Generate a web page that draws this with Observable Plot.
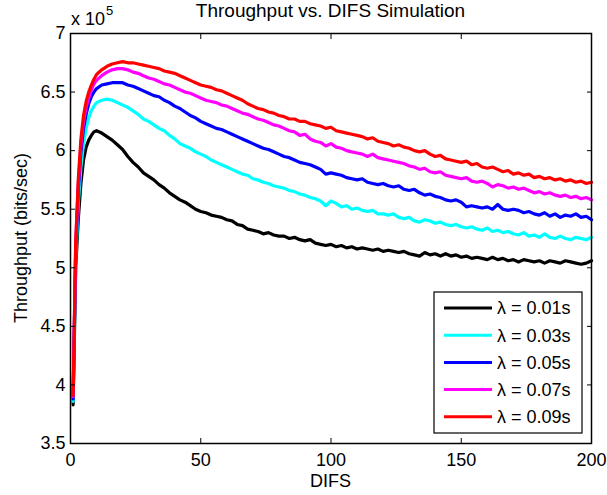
<!DOCTYPE html>
<html><head><meta charset="utf-8">
<script src="https://cdn.jsdelivr.net/npm/d3@7"></script>
<script src="https://cdn.jsdelivr.net/npm/@observablehq/plot@0.6"></script>
<style>
body{margin:0;background:#fff}
svg{font-family:"Liberation Sans",Arial,Helvetica,sans-serif}
</style>
</head><body><div id="chart"></div>
<script>
// DIFS values (x)
const difs = [1,2,3,4,5,6,7,8,9,10,
  12,14,16,18,20,22,24,26,28,30,
  32,34,36,38,40,42,44,46,48,50,
  52,54,56,58,60,62,64,66,68,70,
  72,74,76,78,80,82,84,86,88,90,
  92,94,96,98,100,102,104,106,108,110,
  112,114,116,118,120,122,124,126,128,130,
  132,134,136,138,140,142,144,146,148,150,
  152,154,156,158,160,162,164,166,168,170,
  172,174,176,178,180,182,184,186,188,190,
  192,194,196,198,200];

// Throughput in units of 10^5 bits/sec
const lambda001 = [3.83,5.00,5.42,5.72,5.92,6.03,6.09,6.13,6.16,6.17,
  6.15,6.12,6.09,6.05,6.01,5.95,5.90,5.86,5.81,5.78,
  5.75,5.71,5.68,5.64,5.61,5.58,5.56,5.53,5.50,5.48,
  5.47,5.45,5.44,5.43,5.41,5.40,5.37,5.36,5.33,5.32,
  5.31,5.29,5.30,5.28,5.27,5.27,5.25,5.26,5.24,5.23,
  5.24,5.21,5.20,5.19,5.20,5.18,5.19,5.17,5.18,5.16,
  5.17,5.16,5.15,5.16,5.14,5.15,5.14,5.13,5.14,5.12,
  5.11,5.10,5.13,5.11,5.12,5.10,5.12,5.10,5.11,5.09,
  5.10,5.08,5.09,5.08,5.07,5.09,5.07,5.08,5.06,5.07,
  5.05,5.07,5.06,5.05,5.06,5.04,5.06,5.05,5.04,5.06,
  5.05,5.04,5.03,5.04,5.06];

const lambda003 = [3.86,5.08,5.55,5.86,6.06,6.19,6.28,6.34,6.38,6.41,
  6.43,6.44,6.43,6.41,6.39,6.37,6.34,6.31,6.27,6.25,
  6.22,6.19,6.17,6.13,6.10,6.06,6.04,6.02,5.99,5.97,
  5.95,5.92,5.90,5.88,5.86,5.84,5.82,5.80,5.79,5.76,
  5.75,5.73,5.72,5.70,5.69,5.68,5.66,5.65,5.63,5.62,
  5.60,5.59,5.57,5.53,5.57,5.55,5.52,5.53,5.50,5.51,
  5.49,5.48,5.49,5.46,5.46,5.45,5.46,5.43,5.42,5.43,
  5.40,5.39,5.41,5.40,5.38,5.39,5.37,5.36,5.37,5.35,
  5.34,5.35,5.33,5.32,5.34,5.31,5.32,5.30,5.31,5.29,
  5.28,5.30,5.27,5.28,5.26,5.29,5.26,5.25,5.27,5.25,
  5.24,5.26,5.25,5.24,5.26];

const lambda005 = [3.88,5.15,5.66,5.99,6.19,6.31,6.40,6.46,6.50,6.53,
  6.56,6.57,6.58,6.58,6.58,6.56,6.55,6.53,6.51,6.49,
  6.47,6.46,6.43,6.41,6.38,6.36,6.33,6.30,6.28,6.25,
  6.23,6.21,6.19,6.18,6.16,6.14,6.12,6.10,6.08,6.06,
  6.04,6.02,6.01,5.99,5.97,5.95,5.94,5.92,5.90,5.89,
  5.88,5.86,5.84,5.80,5.81,5.80,5.79,5.77,5.76,5.75,
  5.76,5.73,5.72,5.71,5.72,5.70,5.69,5.70,5.67,5.66,
  5.67,5.64,5.62,5.63,5.61,5.60,5.58,5.57,5.58,5.56,
  5.52,5.53,5.52,5.51,5.52,5.50,5.54,5.50,5.49,5.50,
  5.49,5.47,5.48,5.46,5.45,5.47,5.44,5.46,5.43,5.45,
  5.44,5.46,5.43,5.44,5.41];

const lambda007 = [3.90,5.20,5.72,6.05,6.25,6.37,6.45,6.52,6.57,6.60,
  6.64,6.67,6.69,6.70,6.70,6.69,6.67,6.66,6.64,6.62,
  6.61,6.59,6.57,6.56,6.54,6.52,6.50,6.49,6.47,6.45,
  6.43,6.42,6.41,6.39,6.38,6.36,6.34,6.32,6.31,6.29,
  6.27,6.26,6.24,6.22,6.21,6.19,6.17,6.16,6.13,6.14,
  6.10,6.08,6.07,6.04,6.06,6.03,6.02,6.00,5.99,5.98,
  5.97,5.95,5.97,5.94,5.93,5.92,5.91,5.90,5.89,5.87,
  5.86,5.84,5.85,5.82,5.81,5.82,5.79,5.78,5.77,5.76,
  5.77,5.74,5.73,5.74,5.72,5.69,5.71,5.70,5.68,5.69,
  5.67,5.68,5.66,5.64,5.65,5.63,5.64,5.62,5.61,5.62,
  5.60,5.61,5.59,5.60,5.58];

const lambda009 = [3.91,5.22,5.76,6.10,6.30,6.42,6.50,6.56,6.61,6.65,
  6.69,6.72,6.74,6.75,6.76,6.75,6.75,6.74,6.73,6.72,
  6.71,6.70,6.68,6.67,6.66,6.64,6.62,6.60,6.58,6.56,
  6.55,6.54,6.52,6.51,6.49,6.47,6.45,6.43,6.40,6.38,
  6.36,6.35,6.33,6.32,6.30,6.29,6.27,6.27,6.25,6.25,
  6.23,6.22,6.21,6.19,6.20,6.17,6.16,6.15,6.14,6.13,
  6.12,6.10,6.11,6.08,6.07,6.06,6.04,6.05,6.03,6.02,
  6.00,5.99,6.00,5.97,5.95,5.96,5.93,5.92,5.91,5.90,
  5.91,5.88,5.89,5.86,5.85,5.86,5.84,5.82,5.83,5.80,
  5.81,5.79,5.80,5.77,5.78,5.76,5.77,5.75,5.76,5.74,
  5.75,5.73,5.74,5.72,5.73];

const seriesNames = ["λ = 0.01s","λ = 0.03s","λ = 0.05s","λ = 0.07s","λ = 0.09s"];
const seriesColors = ["#000000","#00ffff","#0000ff","#ff00ff","#ff0000"];
const xTicks = [0,50,100,150,200];
const yTicks = [3.5,4,4.5,5,5.5,6,6.5,7];

const allSeries = [lambda001, lambda003, lambda005, lambda007, lambda009];
const table = [];
allSeries.forEach((vals, i) => vals.forEach((v, j) => table.push({difs: difs[j], throughput: v, series: seriesNames[i]})));

const W = 607, H = 495, ML = 70, MR = 16, MT = 33, MB = 52;
const FONT = "Liberation Sans, Arial, Helvetica, sans-serif";

const chart = Plot.plot({
  width: W, height: H,
  marginLeft: ML, marginRight: MR, marginTop: MT, marginBottom: MB,
  style: {fontSize: "18px", fontFamily: FONT, background: "white", color: "black", overflow: "visible"},
  x: {domain: [0, 200], label: null},
  y: {domain: [3.5, 7], label: null},
  color: {domain: seriesNames, range: seriesColors},
  marks: [
    Plot.line(table, {x: "difs", y: "throughput", z: "series", stroke: "series", strokeWidth: 3.2, strokeLinejoin: "round"}),
    Plot.frame({stroke: "black", strokeWidth: 1.5}),
    Plot.axisX(xTicks, {anchor: "bottom", tickSize: -5, tickPadding: 15, tickFormat: d3.format("d"), label: null, strokeWidth: 1}),
    Plot.axisX(xTicks, {anchor: "top", tickSize: -5, tickFormat: () => "", label: null, strokeWidth: 1}),
    Plot.axisY(yTicks, {anchor: "left", tickSize: -5, tickPadding: 10, tickFormat: d3.format("~g"), label: null, strokeWidth: 1}),
    Plot.axisY(yTicks, {anchor: "right", tickSize: -5, tickFormat: () => "", label: null, strokeWidth: 1})
  ]
});

document.getElementById("chart").appendChild(chart);
const svg = d3.select(chart);
const cx = ML + (W - ML - MR) / 2;
const cy = MT + (H - MT - MB) / 2;

svg.append("text").attr("x", cx).attr("y", 17).attr("text-anchor", "middle")
  .attr("font-size", 19).attr("fill", "black").text("Throughput vs. DIFS Simulation");
svg.append("text").attr("x", cx).attr("y", 487).attr("text-anchor", "middle")
  .attr("font-size", 18).attr("fill", "black").text("DIFS");
svg.append("text").attr("transform", `translate(27,${cy}) rotate(-90)`).attr("text-anchor", "middle")
  .attr("font-size", 18).attr("fill", "black").text("Throughput (bits/sec)");
const exp = svg.append("text").attr("x", 71).attr("y", 25).attr("text-anchor", "start")
  .attr("font-size", 18).attr("fill", "black");
exp.append("tspan").text("x 10");
exp.append("tspan").attr("font-size", 13).attr("dy", -10).attr("dx", 1).text("5");

// Legend
const lg = svg.append("g").attr("transform", "translate(434,292)");
lg.append("rect").attr("width", 148).attr("height", 141).attr("fill", "white").attr("stroke", "black").attr("stroke-width", 1.2);
seriesNames.forEach((name, i) => {
  const y = 16 + 27.2 * i;
  lg.append("line").attr("x1", 10).attr("x2", 58).attr("y1", y).attr("y2", y)
    .attr("stroke", seriesColors[i]).attr("stroke-width", 3);
  lg.append("text").attr("x", 63).attr("y", y).attr("dy", "0.35em").attr("text-anchor", "start")
    .attr("font-size", 18).attr("fill", "black").text(name);
});
</script>
</body></html>
